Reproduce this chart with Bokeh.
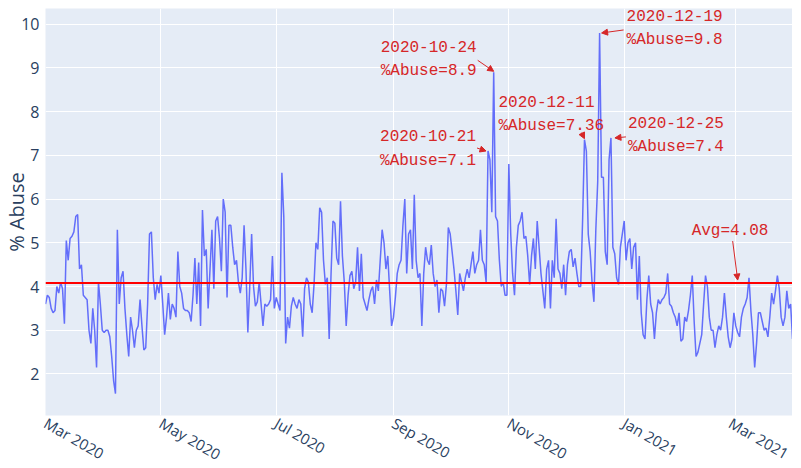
import math
import pandas as pd
from bokeh.plotting import figure
from bokeh.models import (ColumnDataSource, Range1d, Span, Label, Arrow, NormalHead,
                          MonthsTicker, DatetimeTickFormatter, FixedTicker)
from bokeh.embed import file_html
from bokeh.resources import INLINE

# ---------------- data ----------------
start_date = "2020-03-01"
abuse_pct = [
    3.6, 3.8, 3.75, 3.5, 3.4, 3.45, 4.0, 3.85, 4.1, 3.95,
    3.15, 5.05, 4.6, 5.1, 5.15, 5.25, 5.6, 5.65, 4.4, 4.5,
    3.8, 3.75, 3.7, 3.0, 2.7, 3.5, 3.0, 2.15, 4.1, 3.6,
    3.0, 2.95, 3.0, 3.0, 2.85, 2.4, 1.85, 1.55, 5.3, 3.6,
    4.2, 4.35, 3.5, 2.9, 2.4, 3.3, 3.0, 2.6, 3.0, 3.1,
    3.7, 3.1, 2.55, 2.6, 3.6, 5.2, 5.25, 4.2, 3.7, 4.05,
    3.85, 4.25, 3.6, 2.9, 3.3, 3.85, 3.25, 3.6, 3.5, 3.3,
    4.8, 4.0, 3.85, 3.5, 3.45, 3.45, 3.4, 3.2, 3.8, 4.65,
    3.6, 4.55, 3.1, 5.75, 4.7, 4.85, 3.5, 4.4, 5.3, 3.95,
    5.5, 5.6, 5.1, 4.35, 6.0, 5.7, 3.75, 5.4, 5.4, 4.9,
    4.5, 4.6, 4.1, 3.85, 4.2, 5.4, 4.4, 2.95, 4.0, 5.2,
    4.0, 3.55, 3.65, 4.1, 3.6, 3.1, 3.6, 3.55, 3.6, 3.7,
    4.7, 3.5, 3.75, 3.6, 3.45, 6.6, 5.6, 2.7, 3.3, 3.05,
    3.55, 3.75, 3.6, 3.5, 3.7, 3.6, 2.85, 3.95, 4.2, 4.1,
    3.6, 3.4, 4.05, 5.0, 4.85, 5.8, 5.7, 4.6, 4.05, 4.2,
    2.8, 4.3, 5.5, 5.45, 4.65, 4.5, 5.95, 4.7, 4.1, 3.1,
    3.8, 4.25, 4.35, 3.95, 4.1, 4.9, 3.9, 4.75, 3.75, 3.6,
    3.45, 3.7, 3.9, 4.0, 3.6, 4.15, 3.9, 4.6, 5.3, 5.0,
    4.4, 4.7, 3.9, 3.1, 3.3, 3.75, 4.3, 4.5, 4.6, 5.4,
    6.0, 4.3, 5.2, 5.3, 4.4, 6.1, 4.6, 4.2, 4.3, 3.1,
    4.3, 4.9, 4.6, 4.5, 4.95, 4.3, 4.0, 4.15, 3.4, 3.95,
    3.9, 3.55, 4.05, 5.35, 5.2, 4.8, 4.4, 3.9, 3.35, 4.3,
    4.1, 3.9, 4.2, 4.4, 4.2, 4.5, 4.8, 4.3, 4.5, 4.6,
    5.3, 4.6, 4.5, 4.1, 7.1, 6.9, 5.7, 8.9, 5.6, 5.5,
    4.6, 4.0, 4.1, 3.8, 3.8, 6.8, 5.2, 4.3, 3.8, 4.9,
    5.4, 5.5, 5.7, 5.1, 5.15, 4.7, 4.05, 4.7, 5.1, 4.4,
    5.5, 4.9, 4.3, 3.9, 3.5, 4.4, 4.6, 3.5, 4.6, 4.2,
    5.55, 4.4, 4.3, 3.95, 4.5, 3.8, 4.5, 4.8, 4.85, 4.45,
    4.65, 4.3, 4.0, 4.0, 5.5, 7.36, 7.1, 5.2, 4.8, 4.1,
    3.65, 5.3, 6.4, 9.8, 6.5, 6.5, 4.8, 4.5, 6.9, 7.4,
    4.9, 4.75, 4.2, 4.05, 4.9, 5.2, 5.5, 4.6, 5.0, 5.1,
    4.4, 4.9, 5.0, 3.7, 4.7, 3.4, 2.9, 2.8, 3.7, 4.25,
    3.6, 3.4, 2.8, 3.4, 3.7, 3.6, 3.7, 3.75, 3.85, 4.3,
    3.6, 3.55, 3.4, 3.3, 3.1, 3.4, 2.75, 2.8, 3.3, 3.2,
    3.45, 3.8, 4.25, 3.2, 2.4, 2.5, 2.7, 2.9, 3.6, 4.25,
    4.0, 3.3, 3.0, 3.0, 2.6, 2.9, 3.1, 3.0, 3.3, 3.85,
    3.3, 2.85, 2.6, 2.8, 3.4, 3.1, 2.95, 2.85, 3.3, 3.5,
    3.6, 3.75, 4.2, 3.45, 2.9, 2.15, 2.7, 3.4, 3.4, 3.2,
    3.0, 3.05, 2.85, 3.3, 3.85, 3.6, 3.9, 4.25, 3.95, 3.3,
    3.1, 3.3, 3.9, 3.5, 3.6, 2.8,
]
dates = pd.date_range(start_date, periods=len(abuse_pct), freq="D")

avg_value = 4.08
avg_label_date = "2021-03-02"

ann_dates = ["2020-10-24", "2020-10-21", "2020-12-11", "2020-12-19", "2020-12-25"]
ann_values = [8.9, 7.1, 7.36, 9.8, 7.4]
ann_value_text = ["8.9", "7.1", "7.36", "9.8", "7.4"]

y_ticks = [2, 3, 4, 5, 6, 7, 8, 9, 10]
x_tick_months = [0, 2, 4, 6, 8, 10]   # Jan, Mar, May, Jul, Sep, Nov

# ---------------- styling / layout ----------------
FRAME_W, FRAME_H = 747, 407
Y_START, Y_END = 1.05, 10.36
BG = "#E5ECF6"
TXT = "#2a3f5f"
LINE_C = "#636EFA"
ANN_C = "#d62728"

# pixel offsets relative to the annotated point: text-left dx, text-center dy,
# arrow tail dx, dy, arrow head dx, dy (screen px, y down)
ann_layout = [
    (-113, -13, -16, -12, 0, -1),
    (-108, -2, -11, -3, -2, 0),
    (-86, -25, -3, -7, 0, -1),
    (27, -4, 24, -3, 2, 0),
    (17, -2, 15, -1, 4, 0),
]
avg_layout = (-46, -52, -5, -42, 0, -3)

def ms(d):
    return pd.Timestamp(d).value / 1e6

x0, x1 = ms(dates[0]), ms(dates[-1])
ms_per_px = (x1 - x0) / FRAME_W
val_per_px = (Y_END - Y_START) / FRAME_H

def off(d, v, dx, dy):
    return ms(d) + dx * ms_per_px, v - dy * val_per_px

src = ColumnDataSource(dict(date=dates, abuse=abuse_pct))

p = figure(x_axis_type="datetime", frame_width=FRAME_W, frame_height=FRAME_H,
           x_range=Range1d(x0, x1), y_range=Range1d(Y_START, Y_END),
           output_backend="svg", toolbar_location=None,
           min_border_left=42, min_border_right=0, min_border_top=8, min_border_bottom=0,
           background_fill_color=BG, border_fill_color="white", outline_line_color=None)

p.line(x="date", y="abuse", source=src, line_color=LINE_C, line_width=1.5)

p.add_layout(Span(location=avg_value, dimension="width", line_color="red", line_width=2))

for g in (p.xgrid, p.ygrid):
    g.grid_line_color = "white"
    g.grid_line_width = 1

p.xaxis.ticker = MonthsTicker(months=x_tick_months)
p.xaxis.formatter = DatetimeTickFormatter(months="%b %Y", days="%b %Y", years="%b %Y")
p.xaxis.major_label_orientation = -math.pi / 6

p.yaxis.ticker = FixedTicker(ticks=y_ticks, minor_ticks=[])
p.yaxis.axis_label = "% Abuse"
p.yaxis.axis_label_text_font = "Open Sans"
p.yaxis.axis_label_text_font_size = "20px"
p.yaxis.axis_label_text_font_style = "normal"
p.yaxis.axis_label_text_color = TXT
p.yaxis.axis_label_standoff = -12
p.yaxis.major_label_standoff = 6

for ax in (p.xaxis, p.yaxis):
    ax.axis_line_color = None
    ax.major_tick_line_color = None
    ax.minor_tick_line_color = None
    ax.major_tick_out = 0
    ax.major_tick_in = 0
    ax.minor_tick_out = 0
    ax.minor_tick_in = 0
    ax.major_label_text_font = "Open Sans"
    ax.major_label_text_font_size = "15px"
    ax.major_label_text_color = TXT
p.yaxis.major_label_text_font_size = "16px"
p.xaxis.major_label_standoff = 6

def annotate(d, v, text, lay):
    tdx, tdy, sdx, sdy, edx, edy = lay
    tx, ty = off(d, v, tdx, tdy)
    sx, sy = off(d, v, sdx, sdy)
    ex, ey = off(d, v, edx, edy)
    p.add_layout(Arrow(end=NormalHead(size=6, fill_color=ANN_C, line_color=ANN_C, line_width=1),
                       x_start=sx, y_start=sy, x_end=ex, y_end=ey,
                       line_color=ANN_C, line_width=1))
    p.add_layout(Label(x=tx, y=ty, text=text, text_align="left", text_baseline="middle",
                       text_font="Liberation Mono", text_font_size="16px",
                       text_color=ANN_C, text_line_height=1.28))

for d, v, vt, lay in zip(ann_dates, ann_values, ann_value_text, ann_layout):
    annotate(d, v, f"{d}\n%Abuse={vt}", lay)

annotate(avg_label_date, avg_value, f"Avg={avg_value:.2f}", avg_layout)

open("out.html", "w").write(file_html(p, INLINE))
